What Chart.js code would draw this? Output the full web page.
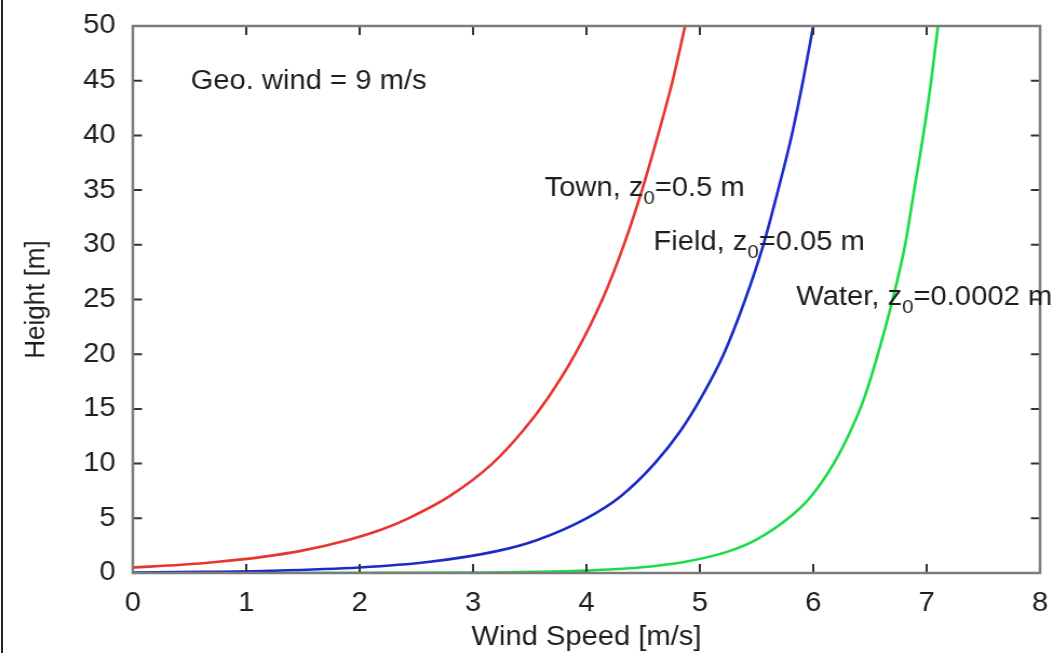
<!DOCTYPE html>
<html>
<head>
<meta charset="utf-8">
<title>Wind profile</title>
<script src="https://cdn.jsdelivr.net/npm/chart.js@4.4.1/dist/chart.umd.min.js"></script>
<style>
  html, body { margin: 0; padding: 0; background: #fff; overflow: hidden; }
  body { width: 1059px; height: 653px; position: relative; }
  /* the original picture is a bit stretched sideways */
  #wrap { position: absolute; left: 0; top: 0; width: 981px; height: 672px; transform: scaleX(1.08); transform-origin: 0 0; }
  #edge { position: absolute; left: 1px; top: 0; width: 2px; height: 653px; background: #222; }
</style>
</head>
<body>
<div id="wrap"><canvas id="chart"></canvas></div>
<div id="edge"></div>
<script>
// heights [m] and wind speeds [m/s]
const townHeight  = [0.5, 0.75, 1, 1.5, 2, 3, 4, 5, 7, 10, 13, 16, 20, 25, 30, 35, 40, 45, 50];
const townSpeed   = [0, 0.43, 0.73, 1.16, 1.47, 1.89, 2.20, 2.43, 2.79, 3.17, 3.44, 3.66, 3.90, 4.14, 4.33, 4.49, 4.63, 4.76, 4.87];

const fieldHeight = [0.05, 0.1, 0.2, 0.5, 1, 2, 3, 5, 7, 10, 13, 16, 20, 25, 30, 35, 40, 45, 50];
const fieldSpeed  = [0, 0.60, 1.20, 2.00, 2.60, 3.21, 3.56, 4.00, 4.30, 4.60, 4.83, 5.01, 5.21, 5.40, 5.56, 5.69, 5.81, 5.91, 6.00];

const waterHeight = [0.0002, 0.001, 0.01, 0.05, 0.1, 0.2, 0.5, 1, 2, 3, 5, 7, 10, 13, 16, 20, 25, 30, 35, 40, 45, 50];
const waterSpeed  = [0, 0.92, 2.23, 3.15, 3.55, 3.94, 4.47, 4.86, 5.26, 5.49, 5.78, 5.98, 6.18, 6.33, 6.45, 6.57, 6.70, 6.81, 6.89, 6.97, 7.04, 7.10];

const xTicks = [0, 1, 2, 3, 4, 5, 6, 7, 8];
const yTicks = [0, 5, 10, 15, 20, 25, 30, 35, 40, 45, 50];

const noteTexts = [
    [['Geo. wind = 9 m/s', false]],
    [['Town, z', false], ['0', true], ['=0.5 m', false]],
    [['Field, z', false], ['0', true], ['=0.05 m', false]],
    [['Water, z', false], ['0', true], ['=0.0002 m', false]]
];
// where each note starts (speed, height of baseline)
const noteAt = [[0.51, 44.2], [3.63, 34.5], [4.59, 29.5], [5.85, 24.5]];

function points(hs, vs) {
    let out = [];
    for (let i = 0; i < hs.length; i++) {
        out.push({ x: vs[i], y: hs[i] });
    }
    return out;
}

const FONT = '"Liberation Sans", Arial, Helvetica, sans-serif';
const TEXT = '#1e1e1e';

const frameAndNotes = {
    id: 'frameAndNotes',
    afterDatasetsDraw(chart) {
        const ctx = chart.ctx;
        const a = chart.chartArea;
        const x = chart.scales.x;
        const y = chart.scales.y;
        ctx.save();

        // inward ticks on all four sides
        ctx.strokeStyle = '#333';
        ctx.lineWidth = 2;
        ctx.beginPath();
        xTicks.forEach(v => {
            let px = x.getPixelForValue(v);
            ctx.moveTo(px, a.bottom); ctx.lineTo(px, a.bottom - 9);
            ctx.moveTo(px, a.top); ctx.lineTo(px, a.top + 9);
        });
        yTicks.forEach(v => {
            let py = y.getPixelForValue(v);
            ctx.moveTo(a.left, py); ctx.lineTo(a.left + 8.5, py);
            ctx.moveTo(a.right, py); ctx.lineTo(a.right - 8.5, py);
        });
        ctx.stroke();

        // frame
        ctx.strokeStyle = '#7c7c7c';
        ctx.lineWidth = 2.5;
        ctx.strokeRect(a.left, a.top, a.right - a.left, a.bottom - a.top);

        // notes, with subscripts
        ctx.fillStyle = TEXT;
        ctx.textBaseline = 'alphabetic';
        ctx.textAlign = 'left';
        noteTexts.forEach((parts, i) => {
            let px = x.getPixelForValue(noteAt[i][0]);
            let py = y.getPixelForValue(noteAt[i][1]);
            parts.forEach(p => {
                ctx.font = p[1] ? '19px ' + FONT : '27px ' + FONT;
                ctx.fillText(p[0], px, p[1] ? py + 8 : py);
                px += ctx.measureText(p[0]).width;
            });
        });
        ctx.restore();
    }
};

const lineStyle = {
    showLine: true,
    pointRadius: 0,
    borderWidth: 2.6,
    cubicInterpolationMode: 'monotone',
    fill: false
};

let config = {
    type: 'scatter',
    data: {
        datasets: [
            Object.assign({ label: 'Town', data: points(townHeight, townSpeed), borderColor: '#e8352e' }, lineStyle),
            Object.assign({ label: 'Field', data: points(fieldHeight, fieldSpeed), borderColor: '#1a2bc8' }, lineStyle),
            Object.assign({ label: 'Water', data: points(waterHeight, waterSpeed), borderColor: '#1bdc48' }, lineStyle)
        ]
    },
    options: {
        responsive: true,
        maintainAspectRatio: false,
        animation: false,
        events: [],
        layout: { autoPadding: false, padding: { left: 0, top: 26, right: 18, bottom: 0 } },
        plugins: {
            legend: { display: false },
            tooltip: { enabled: false }
        },
        scales: {
            x: {
                type: 'linear',
                min: 0, max: 8,
                border: { display: false },
                grid: { display: false, drawTicks: false },
                ticks: { stepSize: 1, padding: 14, color: TEXT, font: { family: FONT, size: 27 } },
                title: { display: true, text: 'Wind Speed [m/s]', color: TEXT, font: { family: FONT, size: 27 }, padding: { top: 0, bottom: 18 } },
                afterFit(scale) {
                    scale.height = 99;
                    scale.paddingLeft = 0;
                    scale.paddingRight = 0;
                }
            },
            y: {
                type: 'linear',
                min: 0, max: 50,
                border: { display: false },
                grid: { display: false, drawTicks: false },
                ticks: { stepSize: 5, padding: 16, color: TEXT, font: { family: FONT, size: 27 } },
                title: { display: true, text: 'Height [m]', color: TEXT, font: { family: FONT, size: 26 }, padding: { top: 18, bottom: 0 } },
                afterFit(scale) {
                    scale.width = 123;
                    scale.paddingTop = 0;
                    scale.paddingBottom = 0;
                }
            }
        }
    },
    plugins: [frameAndNotes]
};

new Chart(document.getElementById('chart'), config);
</script>
</body>
</html>
